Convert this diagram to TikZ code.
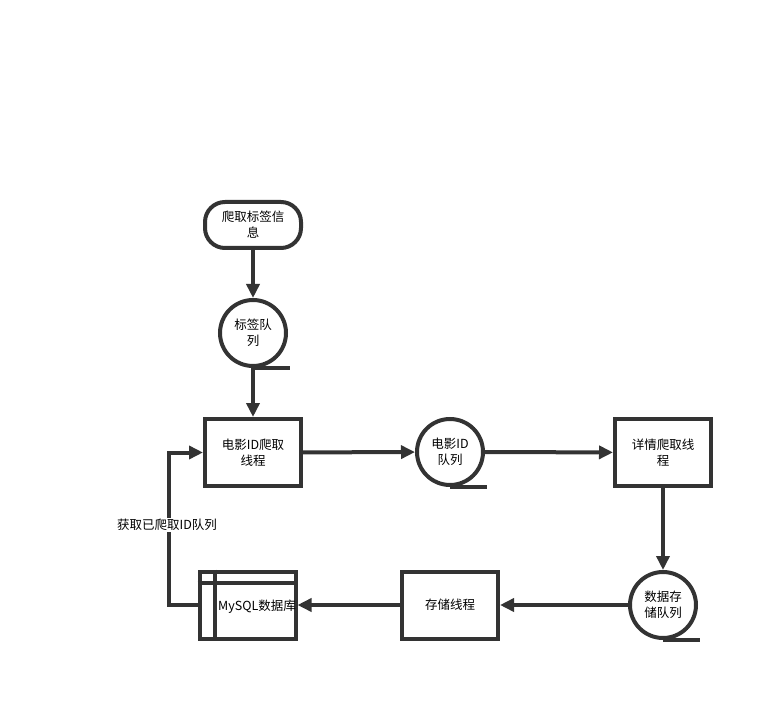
\documentclass[tikz,border=0pt]{standalone}
\usepackage{fontspec}
\setmainfont{Noto Sans CJK SC}
\usetikzlibrary{arrows.meta}
\definecolor{ln}{HTML}{333333}
\begin{document}
\begin{tikzpicture}[x=1pt,y=-1pt,
  txt/.style={font=\fontsize{12.5}{16}\selectfont, text=black, align=center},
  box/.style={txt, draw=ln, line width=4pt, minimum width=96pt, minimum height=67pt, inner sep=0pt},
  queue/.style={txt, circle, draw=ln, line width=4pt, minimum size=66pt, inner sep=0pt},
  arr/.style={draw=ln, line width=4pt, -{Triangle[length=14pt,width=13pt]}},
  tail/.style={draw=ln, line width=4pt}]
\useasboundingbox (0,0) rectangle (774,703);
\node[box, rounded corners=20pt, minimum height=46pt] (tag) at (253,225) {爬取标签信\\息};
\node[queue] (q1) at (253,333) {标签队\\列};
\node[box] (t1) at (253,452.5) {电影ID爬取\\线程};
\node[queue] (q2) at (450,452) {电影ID\\队列};
\node[box] (t2) at (663,452.5) {详情爬取线\\程};
\node[queue] (q3) at (663,605) {数据存\\储队列};
\node[box] (t3) at (450,605) {存储线程};
\node[box] (db) at (247.5,605) {};
\node[txt] (dbl) at (257,607) {MySQL数据库};
\draw[tail] ([yshift=-13pt]db.north west) -- ([yshift=-13pt]db.north east);
\draw[tail] ([xshift=17pt]db.north west) -- ([xshift=17pt]db.south west);
\draw[tail] (q1.south) -- ++(37,0);
\draw[tail] (q2.south) -- ++(37,0);
\draw[tail] (q3.south) -- ++(37,0);
\draw[arr] (tag) -- (q1);
\draw[arr] (q1) -- (t1);
\draw[arr] (t1) -- (q2);
\draw[arr] (q2) -- (t2);
\draw[arr] (t2) -- (q3);
\draw[arr] (q3) -- (t3);
\draw[arr] (t3) -- (db);
\draw[arr] (db.west) -- ++(-29,0) |- (t1.west);
\node[txt, fill=white, inner sep=1pt] (lbl) at (167,525) {获取已爬取ID队列};
\end{tikzpicture}
\end{document}
